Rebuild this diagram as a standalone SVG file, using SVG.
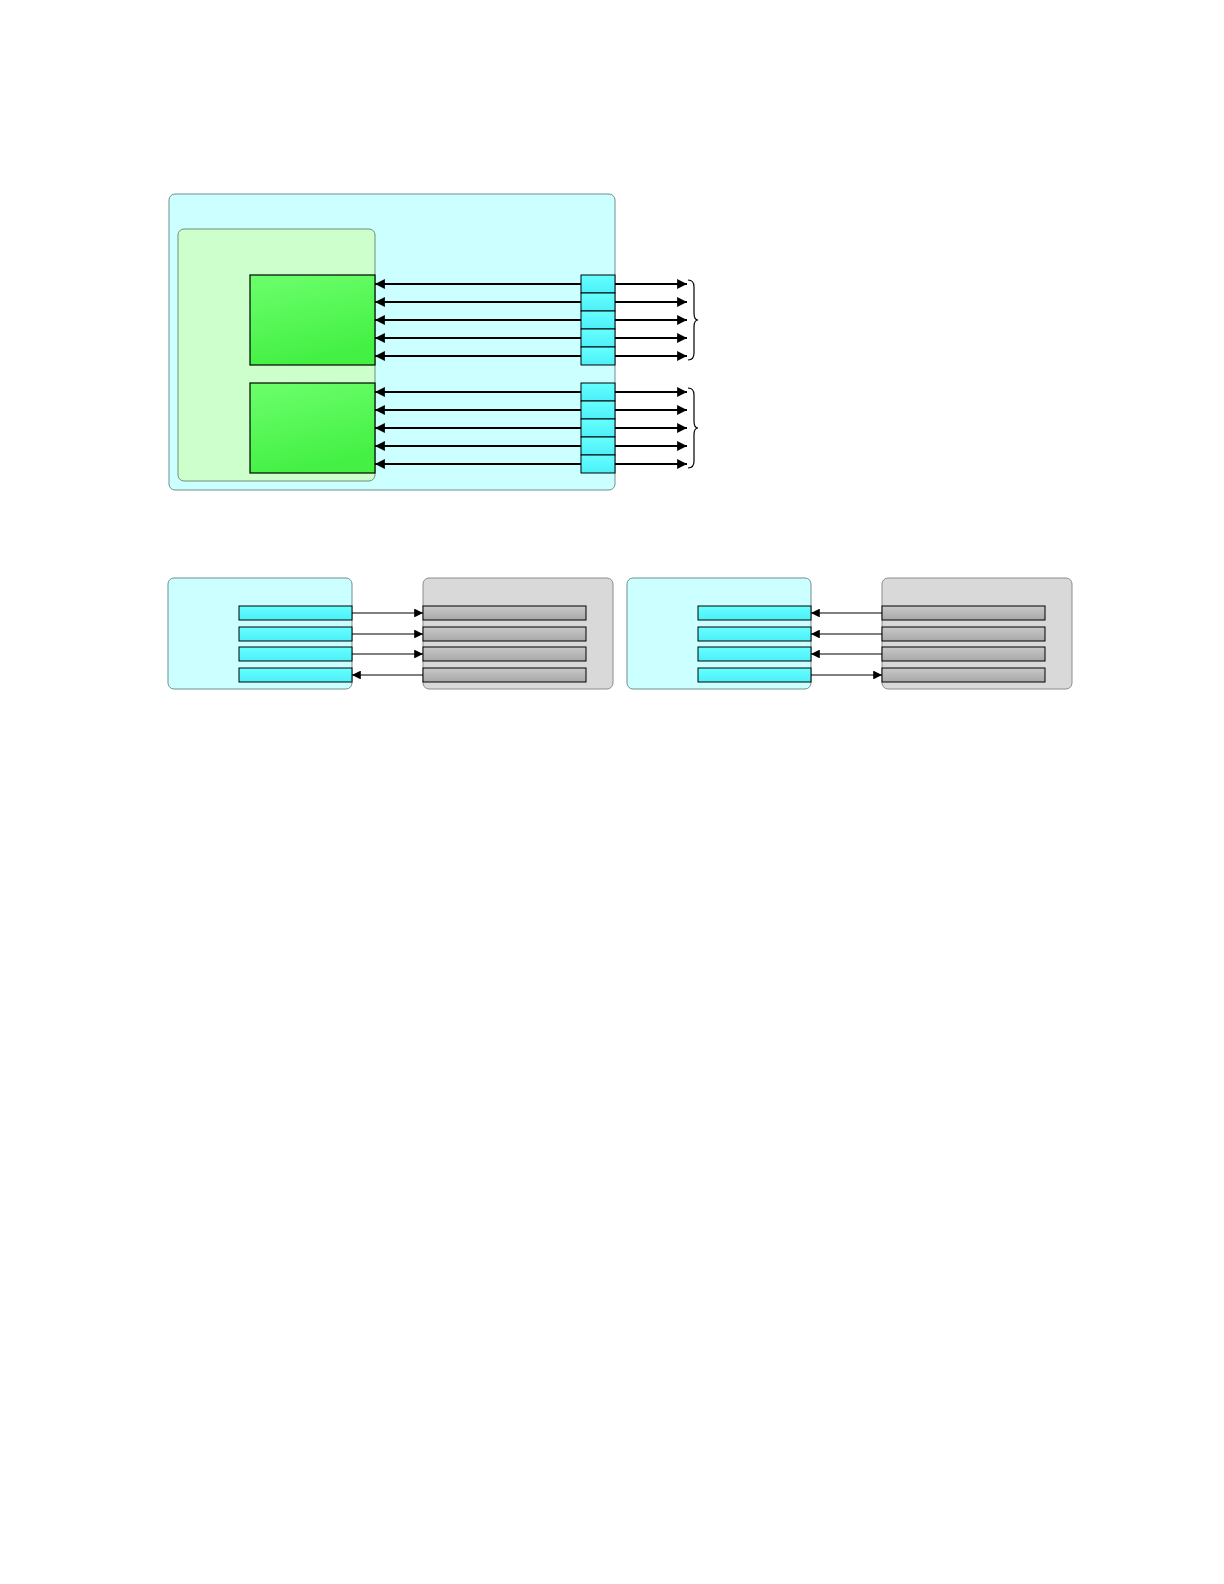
<svg xmlns="http://www.w3.org/2000/svg" width="1224" height="1584" viewBox="0 0 1224 1584">
<style>
.panel{fill:#ccffff;stroke:#6f8f8f;stroke-width:1}
.inner{fill:#ccffcc;stroke:#6f8f6f;stroke-width:1}
.gbox{fill:#d9d9d9;stroke:#8c8c8c;stroke-width:1}
.blk{fill:url(#gGreen);stroke:#000;stroke-width:1.2}
.cell{fill:url(#gCyan);stroke:#000;stroke-width:1}
.bar{fill:url(#gCyan);stroke:#000;stroke-width:1}
.gbar{fill:url(#gGray);stroke:#000;stroke-width:1}
.thick{stroke:#000;stroke-width:2.2;fill:none}
.thin{stroke:#000;stroke-width:1.1;fill:none}
.brace{stroke:#000;stroke-width:1.2;fill:none}
</style>
<defs>
<linearGradient id="gGreen" x1="0" y1="0" x2="0.3" y2="1">
<stop offset="0" stop-color="#6cff6c"/>
<stop offset="1" stop-color="#44f044"/>
</linearGradient>
<linearGradient id="gCyan" x1="0" y1="0" x2="0" y2="1">
<stop offset="0" stop-color="#66ffff"/>
<stop offset="1" stop-color="#4cf0f8"/>
</linearGradient>
<linearGradient id="gGray" x1="0" y1="0" x2="0" y2="1">
<stop offset="0" stop-color="#c8c8c8"/>
<stop offset="1" stop-color="#a8a8a8"/>
</linearGradient>
<marker id="ahB" viewBox="0 0 10 10" refX="10" refY="5" markerWidth="6" markerHeight="4.5" markerUnits="strokeWidth" orient="auto-start-reverse">
<path d="M0,0 L10,5 L0,10 z" fill="#000"/>
</marker>
<marker id="ahS" viewBox="0 0 10 10" refX="10" refY="5" markerWidth="11" markerHeight="8" markerUnits="strokeWidth" orient="auto-start-reverse">
<path d="M0,0 L10,5 L0,10 z" fill="#000"/>
</marker>
</defs>
<rect width="1224" height="1584" fill="#fff"/>

<g id="system">
<rect class="panel" x="169" y="194" width="446" height="296" rx="6"/>
</g>
<g id="subsystem">
<rect class="inner" x="178" y="229" width="197" height="252" rx="6"/>
</g>
<g id="blockA">
<rect class="blk" x="250" y="275" width="125" height="90"/>
</g>
<g id="blockB">
<rect class="blk" x="250" y="383" width="125" height="90"/>
</g>
<g id="portsA">
<rect class="cell" x="581" y="275" width="34" height="18"/>
<rect class="cell" x="581" y="293" width="34" height="18"/>
<rect class="cell" x="581" y="311" width="34" height="18"/>
<rect class="cell" x="581" y="329" width="34" height="18"/>
<rect class="cell" x="581" y="347" width="34" height="18"/>
</g>
<g id="portsB">
<rect class="cell" x="581" y="383" width="34" height="18"/>
<rect class="cell" x="581" y="401" width="34" height="18"/>
<rect class="cell" x="581" y="419" width="34" height="18"/>
<rect class="cell" x="581" y="437" width="34" height="18"/>
<rect class="cell" x="581" y="455" width="34" height="18"/>
</g>

<g id="leftPanel">
<rect class="panel" x="168" y="578" width="184" height="111" rx="6"/>
<rect class="bar" x="239" y="606" width="113" height="14"/>
<rect class="bar" x="239" y="627" width="113" height="14"/>
<rect class="bar" x="239" y="647" width="113" height="14"/>
<rect class="bar" x="239" y="668" width="113" height="14"/>
</g>
<g id="leftGray">
<rect class="gbox" x="423" y="578" width="190" height="111" rx="6"/>
<rect class="gbar" x="423" y="606" width="163" height="14"/>
<rect class="gbar" x="423" y="627" width="163" height="14"/>
<rect class="gbar" x="423" y="647" width="163" height="14"/>
<rect class="gbar" x="423" y="668" width="163" height="14"/>
</g>
<g id="rightPanel">
<rect class="panel" x="627" y="578" width="184" height="111" rx="6"/>
<rect class="bar" x="698" y="606" width="113" height="14"/>
<rect class="bar" x="698" y="627" width="113" height="14"/>
<rect class="bar" x="698" y="647" width="113" height="14"/>
<rect class="bar" x="698" y="668" width="113" height="14"/>
</g>
<g id="rightGray">
<rect class="gbox" x="882" y="578" width="190" height="111" rx="6"/>
<rect class="gbar" x="882" y="606" width="163" height="14"/>
<rect class="gbar" x="882" y="627" width="163" height="14"/>
<rect class="gbar" x="882" y="647" width="163" height="14"/>
<rect class="gbar" x="882" y="668" width="163" height="14"/>
</g>

<g id="connectors">
<g class="thick" marker-end="url(#ahB)">
<line x1="581" y1="284" x2="375" y2="284"/>
<line x1="581" y1="302" x2="375" y2="302"/>
<line x1="581" y1="320" x2="375" y2="320"/>
<line x1="581" y1="338" x2="375" y2="338"/>
<line x1="581" y1="356" x2="375" y2="356"/>
<line x1="581" y1="392" x2="375" y2="392"/>
<line x1="581" y1="410" x2="375" y2="410"/>
<line x1="581" y1="428" x2="375" y2="428"/>
<line x1="581" y1="446" x2="375" y2="446"/>
<line x1="581" y1="464" x2="375" y2="464"/>
<line x1="615" y1="284" x2="687" y2="284"/>
<line x1="615" y1="302" x2="687" y2="302"/>
<line x1="615" y1="320" x2="687" y2="320"/>
<line x1="615" y1="338" x2="687" y2="338"/>
<line x1="615" y1="356" x2="687" y2="356"/>
<line x1="615" y1="392" x2="687" y2="392"/>
<line x1="615" y1="410" x2="687" y2="410"/>
<line x1="615" y1="428" x2="687" y2="428"/>
<line x1="615" y1="446" x2="687" y2="446"/>
<line x1="615" y1="464" x2="687" y2="464"/>
</g>
<path class="brace" d="M688,280 Q694,280 694,287 L694,313 Q694,320 698,320 Q694,320 694,327 L694,353 Q694,360 688,360"/>
<path class="brace" d="M688,388 Q694,388 694,395 L694,421 Q694,428 698,428 Q694,428 694,435 L694,461 Q694,468 688,468"/>
<g class="thin" marker-end="url(#ahS)">
<line x1="352" y1="613" x2="423" y2="613"/>
<line x1="352" y1="634" x2="423" y2="634"/>
<line x1="352" y1="654" x2="423" y2="654"/>
<line x1="423" y1="675" x2="352" y2="675"/>
<line x1="882" y1="613" x2="811" y2="613"/>
<line x1="882" y1="634" x2="811" y2="634"/>
<line x1="882" y1="654" x2="811" y2="654"/>
<line x1="811" y1="675" x2="882" y2="675"/>
</g>
</g>
</svg>
